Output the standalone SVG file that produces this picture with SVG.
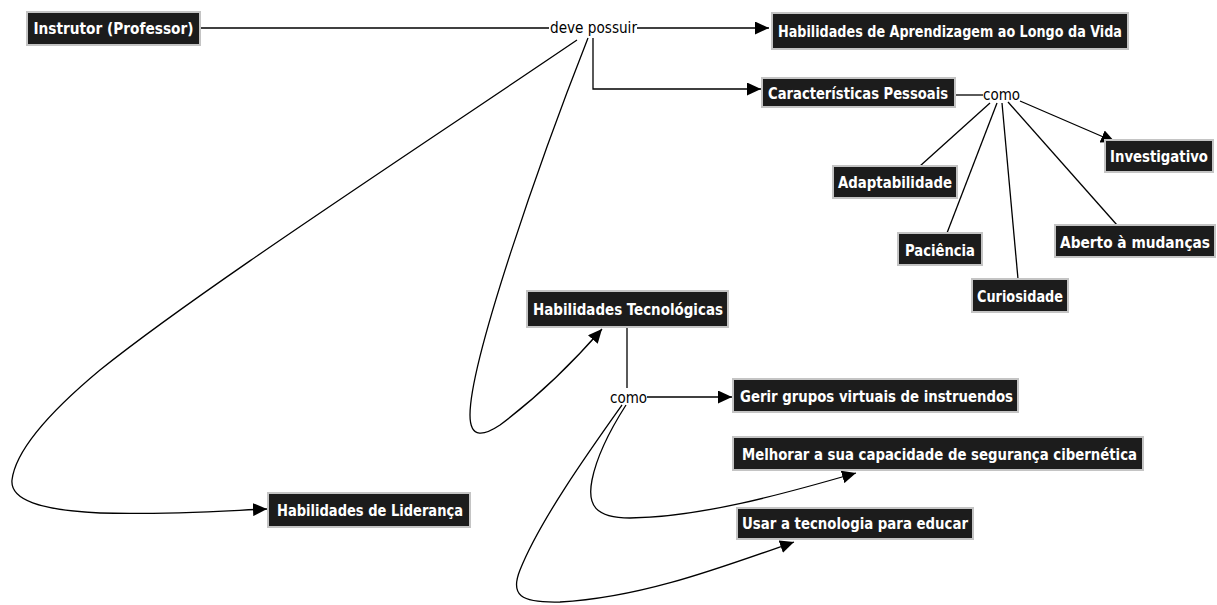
<svg xmlns="http://www.w3.org/2000/svg" width="1217" height="605" viewBox="0 0 1217 605">
<style>
.box{fill:#1c1c1c;stroke:#c4c4c4;stroke-width:2}
.nt{fill:#ffffff;font-family:"DejaVu Sans Condensed","DejaVu Sans","Liberation Sans",sans-serif;font-stretch:condensed;font-weight:bold;font-size:16.5px;text-anchor:middle}
.ne{font-size:15px}
.lb{fill:#000;font-family:"DejaVu Sans Condensed","DejaVu Sans","Liberation Sans",sans-serif;font-stretch:condensed;font-size:16px;text-anchor:middle}
.c{fill:none;stroke:#000;stroke-width:1.3}
</style>
<defs>
<marker id="ah" markerUnits="userSpaceOnUse" markerWidth="15" markerHeight="13" refX="14" refY="6.5" orient="auto">
<path d="M0,0 L14,6.5 L0,13 z" fill="#000"/>
</marker>
</defs>
<rect width="1217" height="605" fill="#fff"/>
<g id="connectors">
<path class="c" d="M200,28 L549,28"/>
<path class="c" d="M637,28 L769,28" marker-end="url(#ah)"/>
<path class="c" d="M593,38 L593,89 L761,89" marker-end="url(#ah)"/>
<path class="c" d="M577,40 C400,160 200,290 100,370 C40,420 15,455 12,480 C10,500 40,510 100,513 C160,515 220,511 267,509" marker-end="url(#ah)"/>
<path class="c" d="M588,38 C540,160 470,360 470,415 C470,440 485,435 500,425 C540,395 575,360 602,329" marker-end="url(#ah)"/>
<path class="c" d="M955,95 L983,95"/>
<path class="c" d="M1020,101 L1115,142" marker-end="url(#ah)"/>
<path class="c" d="M990,103 L920,166"/>
<path class="c" d="M997,103 L947,233"/>
<path class="c" d="M1002,103 L1018,279"/>
<path class="c" d="M1008,102 L1117,225"/>
<path class="c" d="M627,327 L627,388"/>
<path class="c" d="M647,397 L732,397" marker-end="url(#ah)"/>
<path class="c" d="M626,405 C610,430 597,455 592,480 C587,505 595,518 630,518 C700,517 780,495 856,473" marker-end="url(#ah)"/>
<path class="c" d="M622,405 C590,450 540,520 520,570 C510,595 520,603 560,602 C640,598 720,568 794,542" marker-end="url(#ah)"/>
</g>
<text class="lb" x="593.5" y="33" textLength="87" lengthAdjust="spacingAndGlyphs">deve possuir</text>
<text class="lb" x="1001.5" y="100" textLength="37" lengthAdjust="spacingAndGlyphs">como</text>
<text class="lb" x="628.5" y="403" textLength="37" lengthAdjust="spacingAndGlyphs">como</text>
<g id="n-instrutor"><rect class="box" x="27" y="12" width="173" height="33"/><text class="nt" x="113.5" y="34" textLength="160" lengthAdjust="spacingAndGlyphs">Instrutor (Professor)</text></g>
<g id="n-aprendizagem"><rect class="box" x="772" y="13" width="356" height="36"/><text class="nt" x="950" y="37" textLength="344" lengthAdjust="spacingAndGlyphs">Habilidades de Aprendizagem ao Longo da Vida</text></g>
<g id="n-caracteristicas"><rect class="box" x="762" y="78" width="193" height="29"/><text class="nt" x="858" y="99" textLength="180" lengthAdjust="spacingAndGlyphs">Características Pessoais</text></g>
<g id="n-investigativo"><rect class="box" x="1105" y="140" width="108" height="32"/><text class="nt ne" x="1159" y="162" textLength="98" lengthAdjust="spacingAndGlyphs">Investigativo</text></g>
<g id="n-adaptabilidade"><rect class="box" x="833" y="166" width="124" height="32"/><text class="nt" x="895" y="188" textLength="114" lengthAdjust="spacingAndGlyphs">Adaptabilidade</text></g>
<g id="n-paciencia"><rect class="box" x="898" y="233" width="84" height="32"/><text class="nt" x="940" y="256" textLength="70" lengthAdjust="spacingAndGlyphs">Paciência</text></g>
<g id="n-curiosidade"><rect class="box" x="972" y="279" width="96" height="33"/><text class="nt" x="1020" y="302" textLength="86" lengthAdjust="spacingAndGlyphs">Curiosidade</text></g>
<g id="n-aberto"><rect class="box" x="1055" y="225" width="160" height="32"/><text class="nt ne" x="1135" y="248" textLength="150" lengthAdjust="spacingAndGlyphs">Aberto à mudanças</text></g>
<g id="n-tecnologicas"><rect class="box" x="527" y="291" width="201" height="36"/><text class="nt" x="628" y="315" textLength="190" lengthAdjust="spacingAndGlyphs">Habilidades Tecnológicas</text></g>
<g id="n-gerir"><rect class="box" x="733" y="379" width="285" height="33"/><text class="nt" x="876.5" y="402" textLength="273" lengthAdjust="spacingAndGlyphs">Gerir grupos virtuais de instruendos</text></g>
<g id="n-melhorar"><rect class="box" x="733" y="437" width="410" height="33"/><text class="nt" x="939.5" y="460" textLength="395" lengthAdjust="spacingAndGlyphs">Melhorar a sua capacidade de segurança cibernética</text></g>
<g id="n-usar"><rect class="box" x="737" y="508" width="236" height="31"/><text class="nt" x="855" y="529" textLength="226" lengthAdjust="spacingAndGlyphs">Usar a tecnologia para educar</text></g>
<g id="n-lideranca"><rect class="box" x="268" y="493" width="202" height="34"/><text class="nt" x="370" y="516" textLength="186" lengthAdjust="spacingAndGlyphs">Habilidades de Liderança</text></g>
</svg>
